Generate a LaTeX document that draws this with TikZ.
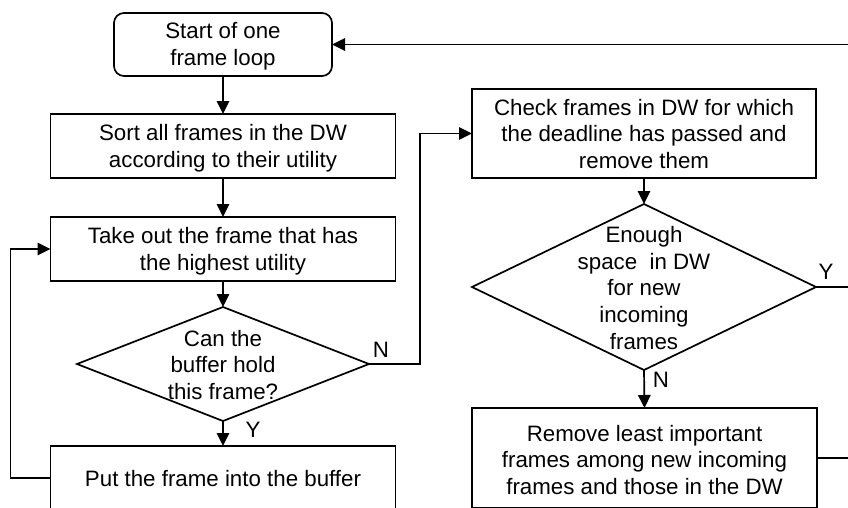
\documentclass[tikz,border=0pt]{standalone}
\usepackage{fontspec}
\setmainfont{Liberation Sans}
\usetikzlibrary{shapes.geometric,arrows.meta}

\begin{document}
\begin{tikzpicture}[x=1pt,y=-1pt,
  line width=1.7pt,
  every node/.style={font=\fontsize{22.3}{26.7}\selectfont, align=center,
    inner sep=0pt, outer sep=0pt},
  box/.style={draw, rectangle, minimum width=345pt},
  startbox/.style={draw, rectangle, rounded corners=10pt,
    minimum width=218pt, minimum height=63pt},
  dia/.style={draw, diamond},
  arr/.style={-{Triangle[length=13pt,width=12.5pt]}},
]
\clip (0,0) rectangle (848,507);

% left column: sorting and buffering
\node[startbox] (start) at (223,44.5) {};
\node (startt) at (223,46.5) {Start of one\\frame loop};
\node[box, minimum height=64pt] (sort) at (223,146) {};
\node (sortt) at (223,148) {Sort all frames in the DW\\according to their utility};
\node[box, minimum height=64pt] (take) at (223,249) {};
\node (taket) at (223,251) {Take out the frame that has\\the highest utility};
\node[dia, minimum width=292pt, minimum height=114pt] (d1) at (223,364) {};
\node (d1t) at (223,365) {Can the\\buffer hold\\this frame?};
\node[box, minimum height=64pt] (put) at (223,478) {};
\node (putt) at (223,479) {Put the frame into the buffer};

% right column: deadline window maintenance
\node[box, minimum width=344pt, minimum height=89pt] (check) at (644,133.5) {};
\node (checkt) at (644,134) {Check frames in DW for which\\the deadline has passed and\\remove them};
\node[dia, minimum width=344pt, minimum height=166pt] (d2) at (644,287) {};
\node (d2t) at (644,288) {Enough\\space~ in DW\\for new\\incoming\\frames};
\node[box, minimum height=100pt] (remove) at (644.5,458) {};
\node (removet) at (644.5,460) {Remove least important\\frames among new incoming\\frames and those in the DW};

% branch labels
\node (n1) at (381,350) {N};
\node (y1) at (253,430) {Y};
\node (y2) at (826,272) {Y};
\node (n2) at (661,380) {N};

% free ends leaving the page on the right
\coordinate (et) at (860,44.5);
\coordinate (ey) at (860,287);
\coordinate (er) at (860,458);

% connectors
\draw[arr] (start.south) -- (sort.north);
\draw[arr] (sort.south) -- (take.north);
\draw[arr] (take.south) -- (d1.north);
\draw[arr] (d1.south) -- (put.north);
\draw[arr] (put.west) -- ++(-40,0) |- (take.west);
\draw[arr] (d1.east) -- ++(51,0) |- (check.west);
\draw[arr] (check.south) -- (d2.north);
\draw[arr] (d2.south) -- (remove.north);
\draw (d2.east) -- (ey);
\draw (remove.east) -- (er);
\draw[arr] (et) -- (start.east);
\end{tikzpicture}
\end{document}
